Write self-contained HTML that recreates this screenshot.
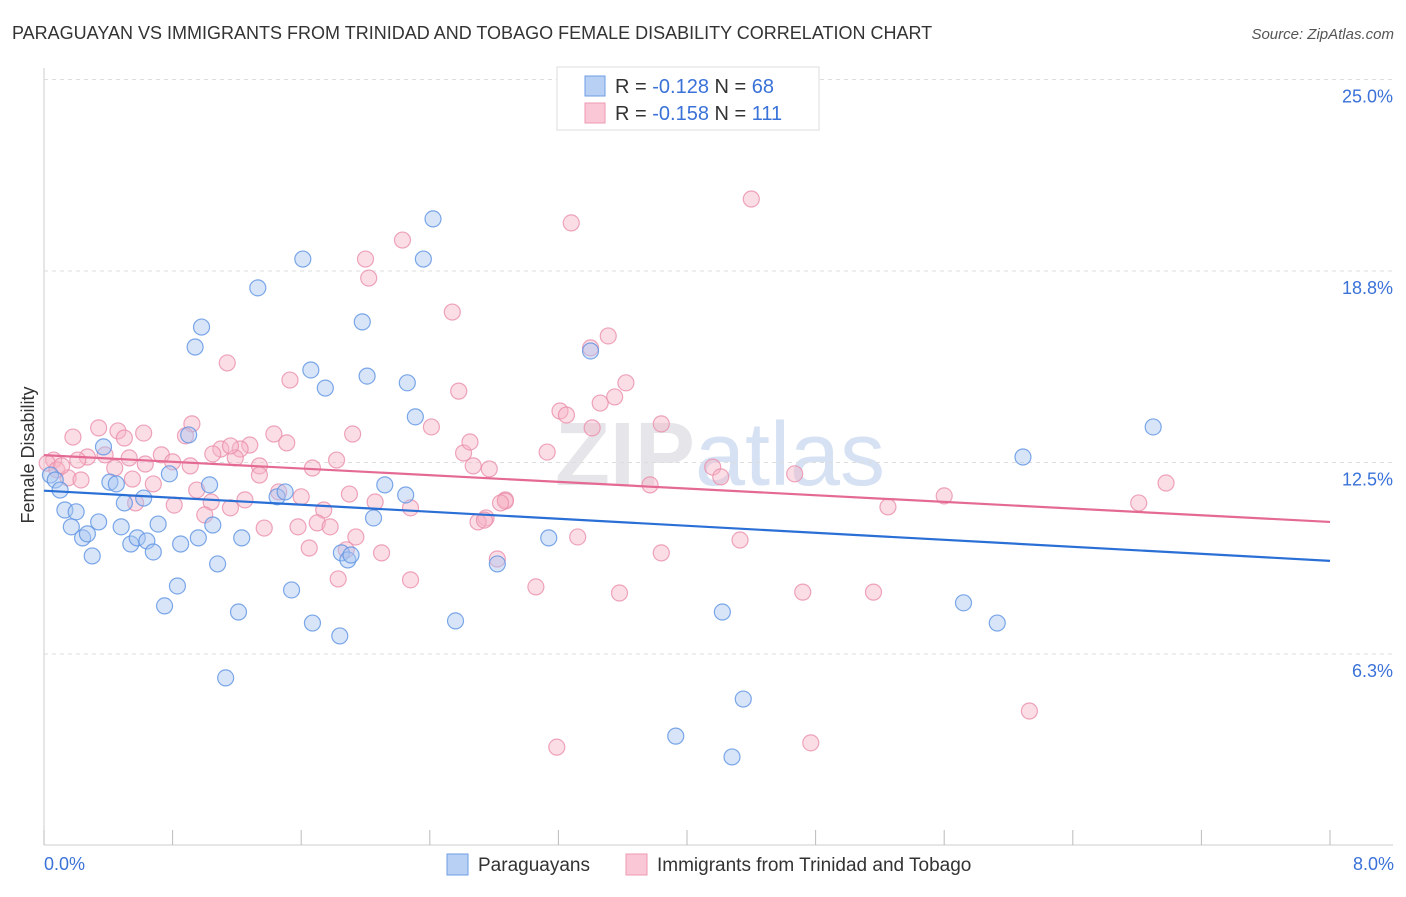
<!DOCTYPE html>
<html><head><meta charset="utf-8"><style>
body{margin:0;background:#fff;font-family:"Liberation Sans",sans-serif}
svg text{font-family:"Liberation Sans",sans-serif}
</style></head><body>
<svg id="chart" width="1406" height="892">
<text x="12" y="39" font-size="18" fill="#333">PARAGUAYAN VS IMMIGRANTS FROM TRINIDAD AND TOBAGO FEMALE DISABILITY CORRELATION CHART</text>
<text x="1394" y="39" font-size="15" fill="#555" font-style="italic" text-anchor="end">Source: ZipAtlas.com</text>
<text x="720" y="485" font-size="90" fill="#e6e6ea" text-anchor="middle" font-weight="bold">ZIP<tspan font-weight="normal" fill="#d6e2f3">atlas</tspan></text>
<g id="grid"></g>
<g id="pts"></g>
<g id="lines"></g>
<text transform="translate(34,455) rotate(-90)" font-size="18" fill="#333" text-anchor="middle">Female Disability</text>
<text x="44" y="870" font-size="18" fill="#3a72d8">0.0%</text>
<text x="1394" y="870" font-size="18" fill="#3a72d8" text-anchor="end">8.0%</text>
<g>
<rect x="557" y="67" width="262" height="63" fill="#fff" stroke="#ddd"/>
<rect x="585" y="76" width="20" height="20" fill="#b8d0f4" stroke="#6e9ee6"/>
<rect x="585" y="103" width="20" height="20" fill="#f9c7d5" stroke="#ee9ab3"/>
<text x="615" y="93" font-size="20" fill="#333">R = <tspan fill="#3a72d8">-0.128</tspan>   N = <tspan fill="#3a72d8">68</tspan></text>
<text x="615" y="120" font-size="20" fill="#333">R = <tspan fill="#3a72d8">-0.158</tspan>   N = <tspan fill="#3a72d8">111</tspan></text>
</g>
<g>
<rect x="447" y="854" width="21" height="21" fill="#b8d0f4" stroke="#6e9ee6"/>
<text x="478" y="871" font-size="19" fill="#333">Paraguayans</text>
<rect x="626" y="854" width="21" height="21" fill="#f9c7d5" stroke="#ee9ab3"/>
<text x="657" y="871" font-size="19" fill="#333">Immigrants from Trinidad and Tobago</text>
</g>
</svg>
<script>
const yTicks=[25,18.75,12.5,6.25];
const yTickLabels=["25.0%","18.8%","12.5%","6.3%"];
const xTicks=[0,0.8,1.6,2.4,3.2,4,4.8,5.6,6.4,7.2,8];
const blueX=[2.42,2.36,1.61,1.33,1.98,0.98,0.94,1.66,2.01,1.75,2.26,2.31,0.90,0.37,6.90,6.09,3.40,0.04,0.07,0.10,0.13,0.20,0.17,0.24,0.34,0.27,0.30,0.41,0.45,0.50,0.62,0.48,0.54,0.58,0.64,0.68,0.71,0.78,0.85,0.96,1.03,1.05,1.08,1.23,1.45,1.50,1.54,1.85,1.89,1.91,2.05,2.12,2.25,2.82,3.14,0.83,0.75,1.21,1.67,1.84,2.56,1.13,4.22,4.35,3.93,4.28,5.72,5.93];
const blueY=[20.45,19.14,19.14,18.20,17.09,16.92,16.27,15.52,15.32,14.93,15.10,13.99,13.40,13.01,13.66,12.68,16.14,12.09,11.93,11.60,10.95,10.89,10.40,10.04,10.56,10.17,9.45,11.86,11.80,11.18,11.34,10.40,9.84,10.04,9.94,9.58,10.49,12.13,9.84,10.04,11.77,10.46,9.19,10.04,11.38,11.54,8.34,9.55,9.32,9.48,10.69,11.77,11.44,9.19,10.04,8.47,7.82,7.62,7.26,6.84,7.33,5.47,7.62,4.78,3.57,2.89,7.92,7.26];
const pinkX=[4.40,3.28,2.23,2.00,2.02,2.54,3.51,3.40,1.14,1.53,3.62,2.58,3.55,3.46,3.21,3.25,0.92,0.34,0.46,0.50,0.62,1.43,1.92,2.41,3.41,3.84,0.18,0.88,1.28,1.10,1.22,1.51,0.73,0.53,0.38,0.27,0.21,0.06,0.02,0.08,0.15,0.23,0.44,0.63,0.80,0.91,1.19,1.34,1.05,1.34,1.67,1.82,2.61,2.67,2.77,3.13,4.16,4.21,3.77,4.67,5.60,6.98,6.81,5.25,0.55,0.68,0.95,0.81,0.57,1.04,1.00,1.16,1.25,1.46,1.60,1.74,1.90,2.06,2.28,2.87,2.75,2.70,1.37,1.58,1.70,1.78,1.94,1.65,1.88,2.10,2.82,3.32,3.84,4.33,2.28,1.83,3.06,3.58,4.72,5.16,6.13,4.77,3.19,2.87,2.74,2.65,2.84,1.16,0.11];
const pinkY=[21.10,20.32,19.76,19.14,18.52,17.41,16.63,16.24,15.75,15.19,15.10,14.83,14.64,14.44,14.18,14.05,13.76,13.63,13.53,13.30,13.46,13.43,13.43,13.66,13.63,13.76,13.33,13.37,13.07,12.94,12.94,13.14,12.75,12.65,12.75,12.68,12.58,12.58,12.48,12.26,12.00,11.93,12.32,12.45,12.52,12.39,12.65,12.39,12.78,12.09,12.32,12.58,12.81,12.39,12.29,12.84,12.35,12.03,11.77,12.13,11.41,11.83,11.18,11.05,11.96,11.80,11.60,11.11,11.18,11.21,10.79,11.02,11.28,11.54,11.38,10.95,11.47,11.21,11.02,11.28,10.69,10.56,10.36,10.40,10.53,10.40,10.07,9.71,9.65,9.55,9.35,10.07,9.55,9.97,8.67,8.70,8.44,8.24,8.27,8.27,4.39,3.35,3.21,11.24,10.62,13.17,11.18,13.04,12.39];
const blueTrend=[11.58,9.29];
const pinkTrend=[12.74,10.56];
const X=v=>44+v*160.75, Y=v=>845.5-v*30.64;
const NS="http://www.w3.org/2000/svg";
function mk(t,a,p){const e=document.createElementNS(NS,t);for(const k in a)e.setAttribute(k,a[k]);p.appendChild(e);return e;}
const grid=document.getElementById('grid');
mk('line',{x1:44,y1:68,x2:44,y2:845,stroke:'#ccc'},grid);
mk('line',{x1:44,y1:845,x2:1393,y2:845,stroke:'#ccc'},grid);
yTicks.forEach((t,i)=>{
 const l=mk('line',{x1:44,y1:Y(t),x2:1393,y2:Y(t),stroke:'#ddd','stroke-dasharray':'4,4'},grid);
 
 
 const tx=mk('text',{x:1393,y:Y(t)+23,'font-size':18,fill:'#3a72d8','text-anchor':'end'},grid);
 tx.textContent=yTickLabels[i];
 
 
});
xTicks.forEach(t=>{
 const l=mk('line',{x1:X(t),y1:830,x2:X(t),y2:845,stroke:'#bbb'},grid);
 
 
});
const pts=document.getElementById('pts');
function series(xs,ys,fill,stroke,name){
 xs.forEach((x,i)=>{
  const c=mk('circle',{cx:X(x),cy:Y(ys[i]),r:8,fill:fill,'fill-opacity':0.45,stroke:stroke,'stroke-opacity':0.8,'stroke-width':1.2},pts);
  
  
 });
}
series(pinkX,pinkY,'#f6b3c6','#ea8fab','trinidad-point');
series(blueX,blueY,'#a9c6f1','#5d92e2','paraguayan-point');
const lines=document.getElementById('lines');
const bl=mk('line',{x1:X(0),y1:Y(blueTrend[0]),x2:X(8),y2:Y(blueTrend[1]),stroke:'#2a6fd6','stroke-width':2.2},lines);


const pl=mk('line',{x1:X(0),y1:Y(pinkTrend[0]),x2:X(8),y2:Y(pinkTrend[1]),stroke:'#e46a93','stroke-width':2.2},lines);


</script>
</body></html>
